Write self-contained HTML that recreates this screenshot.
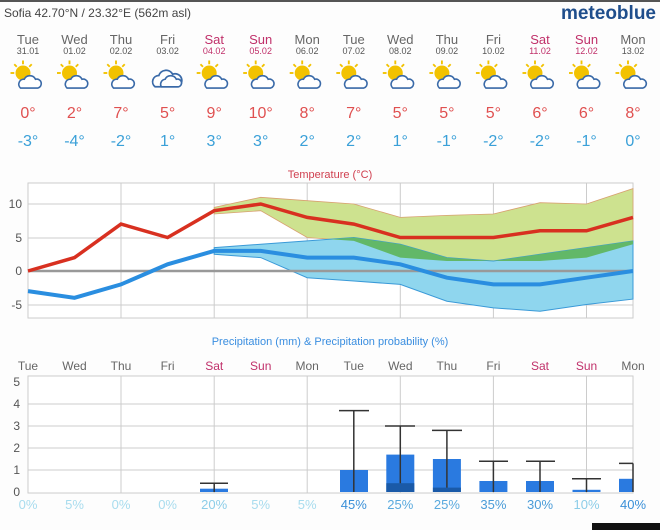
<!DOCTYPE html>
<html><head><meta charset="utf-8"><style>
body{margin:0;background:#fff;}
svg{display:block;font-family:"Liberation Sans",sans-serif;}
</style></head><body>
<svg width="660" height="530" viewBox="0 0 660 530">
<rect width="660" height="530" fill="#fdfdfd"/>
<rect x="0" y="0" width="660" height="2" fill="#555"/>
<text x="4" y="17" font-size="12" fill="#444">Sofia  42.70°N / 23.32°E (562m asl)</text>
<text x="656" y="19" font-size="19" font-weight="bold" fill="#1f4e8c" text-anchor="end">meteoblue</text>
<g font-size="13" text-anchor="middle" fill="#666">
<text x="28" y="44">Tue</text><text x="74.5" y="44">Wed</text><text x="121" y="44">Thu</text><text x="167.6" y="44">Fri</text><text x="214.2" y="44" fill="#c0306a">Sat</text><text x="260.7" y="44" fill="#c0306a">Sun</text><text x="307.2" y="44">Mon</text><text x="353.8" y="44">Tue</text><text x="400.3" y="44">Wed</text><text x="446.9" y="44">Thu</text><text x="493.4" y="44">Fri</text><text x="540" y="44" fill="#c0306a">Sat</text><text x="586.5" y="44" fill="#c0306a">Sun</text><text x="633" y="44">Mon</text>
</g>
<g font-size="9" text-anchor="middle" fill="#555">
<text x="28" y="54">31.01</text><text x="74.5" y="54">01.02</text><text x="121" y="54">02.02</text><text x="167.6" y="54">03.02</text><text x="214.2" y="54" fill="#c0306a">04.02</text><text x="260.7" y="54" fill="#c0306a">05.02</text><text x="307.2" y="54">06.02</text><text x="353.8" y="54">07.02</text><text x="400.3" y="54">08.02</text><text x="446.9" y="54">09.02</text><text x="493.4" y="54">10.02</text><text x="540" y="54" fill="#c0306a">11.02</text><text x="586.5" y="54" fill="#c0306a">12.02</text><text x="633" y="54">13.02</text>
</g>
<defs>
<g id="ic" transform="scale(1.25)"><circle cx="-4" cy="-4" r="6" fill="#f2c200"/><g stroke="#f2c200" stroke-width="1.5"><line x1="-4" y1="-14" x2="-4" y2="-11"/><line x1="-14" y1="-4" x2="-11" y2="-4"/><line x1="-11" y1="-11" x2="-9" y2="-9"/><line x1="3" y1="-11" x2="1" y2="-9"/></g><path d="M-6 8 a4 4 0 0 1 3-7 a5 5 0 0 1 9 0 a3.5 3.5 0 0 1 2 7z" fill="#fff" stroke="#3a6aa8" stroke-width="1.3"/></g>
<g id="cl" transform="scale(1.25)"><path d="M-10 7 a5 5 0 0 1 3-9 a6 6 0 0 1 11-1 a4.5 4.5 0 0 1 4 10z" fill="#fff" stroke="#3a6aa8" stroke-width="1.4"/><path d="M-5 7 a4 4 0 0 1 3-6 a5 5 0 0 1 9 0 a3 3 0 0 1 2 6z" fill="#fff" stroke="#3a6aa8" stroke-width="1.3"/></g>
</defs>
<g transform="translate(0,78)">
<use href="#ic" x="28"/><use href="#ic" x="74.5"/><use href="#ic" x="121"/><use href="#cl" x="167.6"/><use href="#ic" x="214.2"/><use href="#ic" x="260.7"/><use href="#ic" x="307.2"/><use href="#ic" x="353.8"/><use href="#ic" x="400.3"/><use href="#ic" x="446.9"/><use href="#ic" x="493.4"/><use href="#ic" x="540"/><use href="#ic" x="586.5"/><use href="#ic" x="633"/>
</g>
<g font-size="16" text-anchor="middle" fill="#e05050">
<text x="28" y="118">0°</text><text x="74.5" y="118">2°</text><text x="121" y="118">7°</text><text x="167.6" y="118">5°</text><text x="214.2" y="118">9°</text><text x="260.7" y="118">10°</text><text x="307.2" y="118">8°</text><text x="353.8" y="118">7°</text><text x="400.3" y="118">5°</text><text x="446.9" y="118">5°</text><text x="493.4" y="118">5°</text><text x="540" y="118">6°</text><text x="586.5" y="118">6°</text><text x="633" y="118">8°</text>
</g>
<g font-size="16" text-anchor="middle" fill="#3aa0d8">
<text x="28" y="146">-3°</text><text x="74.5" y="146">-4°</text><text x="121" y="146">-2°</text><text x="167.6" y="146">1°</text><text x="214.2" y="146">3°</text><text x="260.7" y="146">3°</text><text x="307.2" y="146">2°</text><text x="353.8" y="146">2°</text><text x="400.3" y="146">1°</text><text x="446.9" y="146">-1°</text><text x="493.4" y="146">-2°</text><text x="540" y="146">-2°</text><text x="586.5" y="146">-1°</text><text x="633" y="146">0°</text>
</g>
<text x="330" y="178" font-size="11" fill="#d04050" text-anchor="middle">Temperature (°C)</text>
<rect x="28" y="183" width="605" height="135" fill="#fff" stroke="#ccc"/>
<g stroke="#ccc" stroke-width="1">
<line x1="28" y1="204" x2="633" y2="204"/><line x1="28" y1="238" x2="633" y2="238"/><line x1="28" y1="305" x2="633" y2="305"/>
<line x1="121" y1="183" x2="121" y2="318"/><line x1="214.2" y1="183" x2="214.2" y2="318"/><line x1="307.2" y1="183" x2="307.2" y2="318"/><line x1="400.3" y1="183" x2="400.3" y2="318"/><line x1="493.4" y1="183" x2="493.4" y2="318"/><line x1="586.5" y1="183" x2="586.5" y2="318"/>
</g>
<g font-size="12" fill="#555" text-anchor="end"><text x="22" y="208">10</text><text x="22" y="242">5</text><text x="22" y="275">0</text><text x="22" y="309">-5</text></g>
<polygon fill="#cde28f" stroke="#d8a070" stroke-width="0.8" points="214.2,207.4 260.7,197.3 307.2,200.7 353.8,204 400.3,217.4 446.9,215.4 493.4,214 540,202.7 586.5,204 633,188.6 633,244.2 586.5,257.6 540,261 493.4,261 446.9,261 400.3,257.6 353.8,240.9 307.2,237.5 260.7,210.7 214.2,214"/>
<polygon fill="#8fd6ee" stroke="#3a9ad8" stroke-width="1" points="214.2,247.6 260.7,244.2 307.2,240.9 353.8,237.5 400.3,244.2 446.9,257.6 493.4,261 540,254.3 586.5,247.6 633,240.9 633,299.1 586.5,304.5 540,311.2 493.4,307.9 446.9,301.2 400.3,284.4 353.8,281 307.2,277.7 260.7,257.6 214.2,254.3"/>
<polygon fill="#62b868" points="330,239.2 353.8,237.5 400.3,244.2 446.9,257.6 493.4,261 540,254.3 586.5,247.6 633,240.9 633,244.2 586.5,257.6 540,261 493.4,261 446.9,261 400.3,257.6 353.8,240.9"/>
<line x1="28" y1="271" x2="633" y2="271" stroke="#999" stroke-width="2.5"/>
<polyline fill="none" stroke="#d83020" stroke-width="3.5" points="28,271 74.5,257.6 121,224.1 167.6,237.5 214.2,210.7 260.7,204 307.2,217.4 353.8,224.1 400.3,237.5 446.9,237.5 493.4,237.5 540,230.8 586.5,230.8 633,217.4"/>
<polyline fill="none" stroke="#2a8ee0" stroke-width="4" points="28,291.1 74.5,297.8 121,284.4 167.6,264.3 214.2,250.9 260.7,250.9 307.2,257.6 353.8,257.6 400.3,264.3 446.9,277.7 493.4,284.4 540,284.4 586.5,277.7 633,271"/>
<text x="330" y="345" font-size="11" fill="#3a8ee0" text-anchor="middle">Precipitation (mm) &amp; Precipitation probability (%)</text>
<g font-size="12" text-anchor="middle" fill="#666">
<text x="28" y="370">Tue</text><text x="74.5" y="370">Wed</text><text x="121" y="370">Thu</text><text x="167.6" y="370">Fri</text><text x="214.2" y="370" fill="#c0306a">Sat</text><text x="260.7" y="370" fill="#c0306a">Sun</text><text x="307.2" y="370">Mon</text><text x="353.8" y="370">Tue</text><text x="400.3" y="370">Wed</text><text x="446.9" y="370">Thu</text><text x="493.4" y="370">Fri</text><text x="540" y="370" fill="#c0306a">Sat</text><text x="586.5" y="370" fill="#c0306a">Sun</text><text x="633" y="370">Mon</text>
</g>
<rect x="28" y="376" width="605" height="117" fill="#fff" stroke="#ccc"/>
<g stroke="#ccc">
<line x1="28" y1="470" x2="633" y2="470"/><line x1="28" y1="448" x2="633" y2="448"/><line x1="28" y1="426" x2="633" y2="426"/><line x1="28" y1="404" x2="633" y2="404"/>
<line x1="121" y1="376" x2="121" y2="493"/><line x1="214.2" y1="376" x2="214.2" y2="493"/><line x1="307.2" y1="376" x2="307.2" y2="493"/><line x1="400.3" y1="376" x2="400.3" y2="493"/><line x1="493.4" y1="376" x2="493.4" y2="493"/><line x1="586.5" y1="376" x2="586.5" y2="493"/>
</g>
<g font-size="12" fill="#555" text-anchor="end"><text x="20" y="386">5</text><text x="20" y="408">4</text><text x="20" y="430">3</text><text x="20" y="452">2</text><text x="20" y="474">1</text><text x="20" y="496">0</text></g>
<g fill="#2a7ae0">
<rect x="200" y="488.7" width="28" height="3.3"/>
<rect x="340" y="470" width="28" height="22"/>
<rect x="386.3" y="454.6" width="28" height="37.4"/>
<rect x="432.9" y="459" width="28" height="33"/>
<rect x="479.4" y="481" width="28" height="11"/>
<rect x="526" y="481" width="28" height="11"/>
<rect x="572.5" y="489.8" width="28" height="2.2"/>
<rect x="619" y="478.8" width="14" height="13.2"/>
</g>
<g fill="#1a5aa8"><rect x="386.3" y="483.2" width="28" height="8.8"/><rect x="432.9" y="487.6" width="28" height="4.4"/></g>
<g stroke="#333" stroke-width="1.5" fill="none">
<path d="M214.2 492V483.2M200 483.2H228"/>
<path d="M353.8 492V410.6M339 410.6H369"/>
<path d="M400.3 483.2V426M385 426H415"/>
<path d="M446.9 487.6V430.4M432 430.4H462"/>
<path d="M493.4 492V461.2M479 461.2H508"/>
<path d="M540 492V461.2M526 461.2H555"/>
<path d="M586.5 492V478.8M572 478.8H601"/>
<path d="M633 492V463.4M619 463.4H633"/>
</g>
<g font-size="13" text-anchor="middle">
<text x="28" y="509" fill="#a8dcee">0%</text><text x="74.5" y="509" fill="#a8dcee">5%</text><text x="121" y="509" fill="#a8dcee">0%</text><text x="167.6" y="509" fill="#a8dcee">0%</text><text x="214.2" y="509" fill="#8ccde8">20%</text><text x="260.7" y="509" fill="#a8dcee">5%</text><text x="307.2" y="509" fill="#a8dcee">5%</text><text x="353.8" y="509" fill="#3a90d8">45%</text><text x="400.3" y="509" fill="#5aaade">25%</text><text x="446.9" y="509" fill="#5aaade">25%</text><text x="493.4" y="509" fill="#4a9cd8">35%</text><text x="540" y="509" fill="#4a9cd8">30%</text><text x="586.5" y="509" fill="#8ccde8">10%</text><text x="633" y="509" fill="#3a90d8">40%</text>
</g>
<rect x="592" y="523" width="68" height="7" fill="#111"/>
</svg>
</body></html>
